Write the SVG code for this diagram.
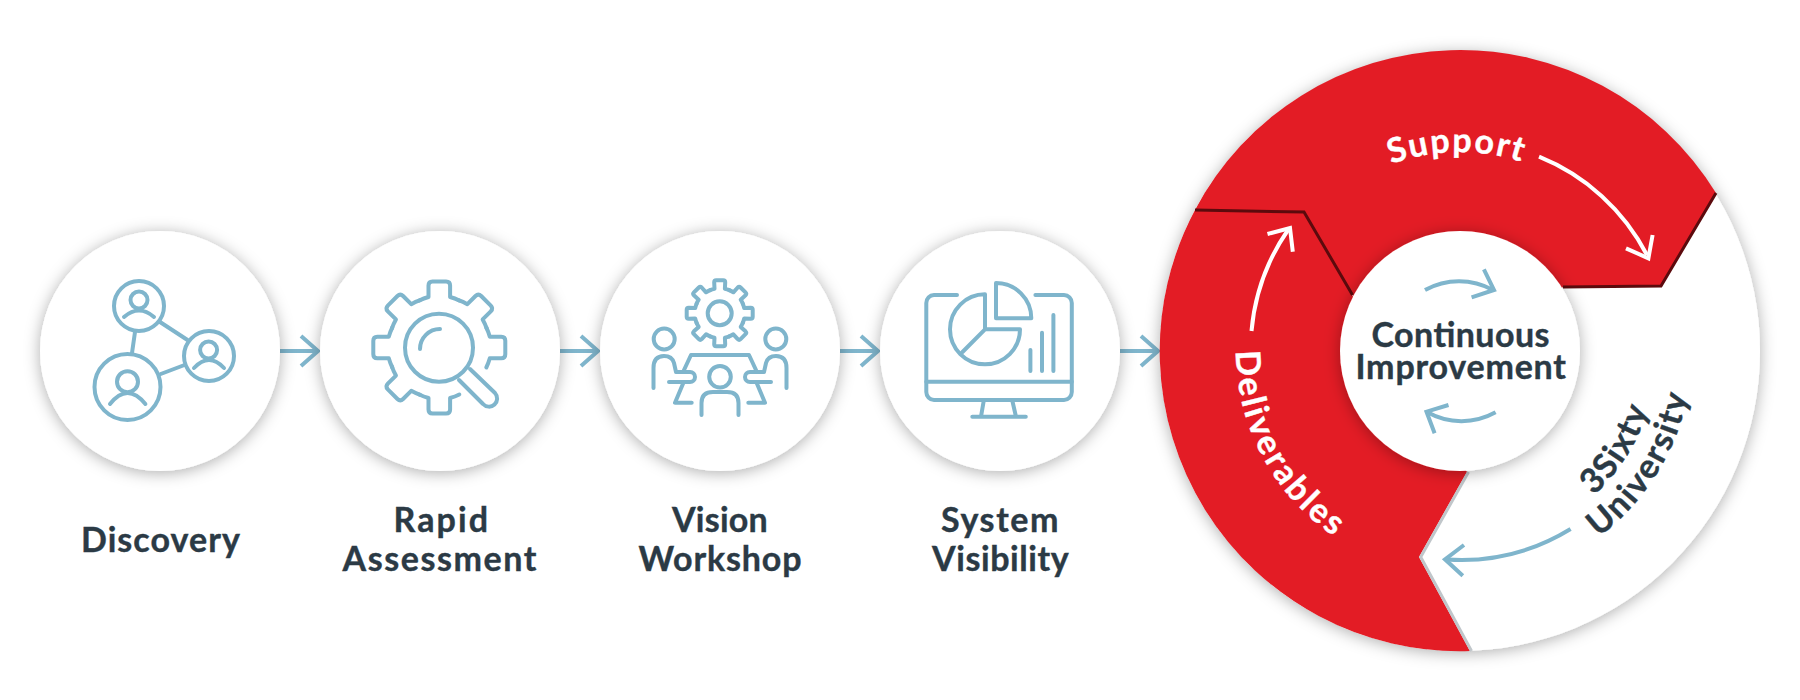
<svg xmlns="http://www.w3.org/2000/svg" xmlns:xlink="http://www.w3.org/1999/xlink" width="1800" height="700" viewBox="0 0 1800 700">
<style>
.ic{fill:none;stroke:#7fb5cc;stroke-width:4;stroke-linecap:round;stroke-linejoin:round}
.ar{fill:none;stroke:#7fb5cc;stroke-width:4;stroke-linecap:butt}
.wa{fill:none;stroke:#fff;stroke-width:4}
.t{font-family:"Lato","Liberation Sans",sans-serif;font-weight:700;font-size:34px;fill:#2b3a45;stroke:#2b3a45;stroke-width:.4}
.c{text-anchor:middle}
.w{fill:#fff}
.wt{fill:#fff;stroke:#fff}
</style>
<defs>
<filter id="sh" x="-30%" y="-30%" width="160%" height="160%"><feDropShadow dx="0" dy="2" stdDeviation="8" flood-color="#000" flood-opacity=".32"/></filter>
<path id="tooth" d="M-20-47A52 52 0 0 1-10.800-50.500L-10.800-62Q-10.800-66-6.800-66H6.800Q10.800-66 10.800-62L10.800-50.500A52 52 0 0 1 20-47"/>
<path id="smt" d="M-9.600-23.100A25 25 0 0 1-5.200-24.500L-5.500-31Q-5.500-33-3.500-33H3.500Q5.500-33 5.500-31L5.200-24.500A25 25 0 0 1 9.600-23.100"/>
<path id="pSup" d="M1319.300 210.300A199 199 0 0 1 1600.700 210.300"/>
<path id="pDel" d="M1236 351A224 224 0 0 0 1460 575"/>
<path id="p3S" d="M1527.400 536.100A197 197 0 0 0 1655.900 330.400"/>
<path id="pUni" d="M1539.300 569A232 232 0 0 0 1690.700 326.700"/>
</defs>
<rect width="1800" height="700" fill="#fff"/>

<g id="connectors">
<path class="ar" d="M280 351H317M301 336L318 351L301 366"/>
<path class="ar" d="M560 351H597M581 336L598 351L581 366"/>
<path class="ar" d="M840 351H877M861 336L878 351L861 366"/>
<path class="ar" d="M1120 351H1157M1141 336L1158 351L1141 366"/>
</g>

<g id="discovery">
<circle cx="160" cy="351" r="120" class="w" filter="url(#sh)"/>
<g class="ic">
<circle cx="139" cy="306" r="25"/><circle cx="209" cy="356" r="25"/><circle cx="127.500" cy="387" r="33"/>
<path d="M135 332L132 353M160 322L187.500 340M160.700 374L184.500 365"/>
<circle cx="139" cy="300" r="8.500"/><path d="M124 317Q139 304 154 317"/>
<circle cx="208.600" cy="350" r="8.500"/><path d="M194 368Q209 352 224 368"/>
<circle cx="127.500" cy="381.700" r="10.500"/><path d="M110 404Q127.500 382 145.400 404"/>
</g>
<text class="t" x="81" y="551.500" textLength="159">Discovery</text>
</g>

<g id="rapid-assessment">
<circle cx="440" cy="351" r="120" class="w" filter="url(#sh)"/>
<g class="ic">
<g transform="translate(439.300 347.500)">
<use href="#tooth"/><use href="#tooth" transform="rotate(45)"/><use href="#tooth" transform="rotate(90)"/><use href="#tooth" transform="rotate(180)"/><use href="#tooth" transform="rotate(225)"/><use href="#tooth" transform="rotate(270)"/><use href="#tooth" transform="rotate(315)"/>
</g>
<circle cx="439" cy="347.700" r="34"/>
<path d="M420 349A20 20 0 0 1 440 329"/>
<path d="M470 369L495 393A8 8 0 0 1 483 404L459 380"/>
</g>
<text class="t" x="393.500" y="531.500" textLength="94.500">Rapid</text>
<text class="t" x="342.500" y="570.500" textLength="194">Assessment</text>
</g>

<g id="vision-workshop">
<circle cx="720" cy="351" r="120" class="w" filter="url(#sh)"/>
<g class="ic">
<g transform="translate(719.700 313.300)">
<use href="#smt"/><use href="#smt" transform="rotate(45)"/><use href="#smt" transform="rotate(90)"/><use href="#smt" transform="rotate(135)"/><use href="#smt" transform="rotate(180)"/><use href="#smt" transform="rotate(225)"/><use href="#smt" transform="rotate(270)"/><use href="#smt" transform="rotate(315)"/>
<circle r="12"/>
</g>
<circle cx="664.200" cy="339" r="10.500"/><circle cx="775.800" cy="339" r="10.500"/>
<path d="M653.500 388V368Q653.500 356 664 356Q672 356 674 363L676 372H690A5 5 0 0 1 690 382H669"/>
<path d="M786.500 388V368Q786.500 356 776 356Q768 356 766 363L764 372H750A5 5 0 0 0 750 382H771"/>
<path d="M684 370L691 355H749L756 370M683.300 383L675 402.700H691.700M756.700 383L765 402.700H748.300"/>
<circle cx="720" cy="376.700" r="10.800"/>
<path d="M701.500 415V403Q701.500 392 713 392H727Q738.500 392 738.500 403V415"/>
</g>
<text class="t" x="672" y="531.500" textLength="95.700">Vision</text>
<text class="t" x="638.500" y="570.500" textLength="163">Workshop</text>
</g>

<g id="system-visibility">
<circle cx="1000" cy="351" r="120" class="w" filter="url(#sh)"/>
<g class="ic">
<path d="M957 295H934A8 8 0 0 0 926.300 303V392A8 8 0 0 0 934 400H1064A8 8 0 0 0 1071.800 392V303A8 8 0 0 0 1064 295H1035.400"/>
<path d="M926.300 381.700H1071.800M983.700 401L981 416.700M1012.400 401L1016 416.700M972.300 416.700H1025.800"/>
<path d="M985 294.300V329.300H1020A35 35 0 1 1 985 294.300M985 329.300L962.500 352"/>
<path d="M996 283V318.300H1031.300A35.300 35.300 0 0 0 996 283"/>
<path d="M1030.400 350V371M1042 332.700V371M1053.400 315V371"/>
</g>
<text class="t" x="941" y="531.500" textLength="117.500">System</text>
<text class="t" x="932" y="570.500" textLength="136.600">Visibility</text>
</g>

<g id="cycle-base">
<circle cx="1460" cy="351" r="300" class="w" filter="url(#sh)"/>
</g>

<g id="deliverables">
<path fill="#e31c25" d="M1195 210L1304 212L1352 295L1467 472L1419 557L1470 651A300 300 0 0 1 1195 210Z"/>
<path fill="none" stroke="#c0c6ca" stroke-width="3" d="M1468.500 472L1420.700 557L1471.500 651"/>
<path class="wa" d="M1251.500 331A210 210 0 0 1 1288 230"/>
<path class="wa" d="M1267.500 234L1290 228L1292.800 251.700"/>
<text class="t wt" style="letter-spacing:2.800px"><textPath href="#pDel" startOffset="0">Deliverables</textPath></text>
</g>

<g id="support">
<path fill="#e31c25" d="M1195 210A300 300 0 0 1 1716 193L1661 286L1563 287L1460 351L1352 295L1304 212Z"/>
<path fill="none" stroke="#5c0a0d" stroke-width="3" d="M1195 210L1304 212L1352.500 295"/>
<path fill="none" stroke="#5c0a0d" stroke-width="3" d="M1716 193L1661 286L1563 287"/>
<path class="wa" d="M1539 156.700A210 210 0 0 1 1647 255"/>
<path class="wa" d="M1626 248.300L1648.400 258.300L1652.600 235"/>
<text class="t c wt" style="letter-spacing:1.800px"><textPath href="#pSup" startOffset="49%">Support</textPath></text>
</g>

<g id="university">
<path class="ar" d="M1570.600 529A210 210 0 0 1 1447 559.500"/>
<path class="ar" d="M1464 545L1445 559.300L1462.800 575.700"/>
<text class="t c" style="letter-spacing:1.500px"><textPath href="#p3S" startOffset="50%">3Sixty</textPath></text>
<text class="t c" style="letter-spacing:1.800px"><textPath href="#pUni" startOffset="50%">University</textPath></text>
</g>

<g id="continuous-improvement">
<circle cx="1460" cy="351" r="120" class="w" filter="url(#sh)"/>
<path class="ar" d="M1425 290A70 70 0 0 1 1493 290"/>
<path class="ar" d="M1483.900 269.300L1494 290L1471.600 297.300"/>
<path class="ar" d="M1495.600 412.300A70 70 0 0 1 1427 412"/>
<path class="ar" d="M1448.500 405L1426.500 411.700L1434.600 433.300"/>
<text class="t" x="1371.500" y="346.500" textLength="178">Continuous</text>
<text class="t" x="1355.500" y="379" textLength="210.500">Improvement</text>
</g>
</svg>
